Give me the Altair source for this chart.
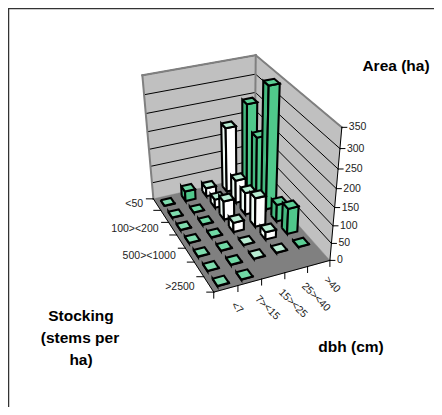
import numpy as np
import pandas as pd
import altair as alt

dbh_labels = ["<7", "7><15", "15><25", "25><40", ">40"]
stocking_labels = ["<50", "", "100><200", "", "500><1000", "", ">2500"]
area_ticks = [0, 50, 100, 150, 200, 250, 300, 350]
# rows = stocking, columns = dbh; None = no bar
area_values = [
    [1, 30, 25, 190, 245],
    [1, 1, 25, 68, 180],
    [1, 1, 55, 65, 345],
    [1, 1, 28, 85, 50],
    [1, 1, 1, 22, 75],
    [1, 1, 1, 1, 1],
    [1, 1, None, None, None],
]
series_face = ["#50c88b", "#50c88b", "#ffffff", "#ffffff", "#50c88b"]
series_side = ["#45b97f", "#45b97f", "#eefaf4", "#eefaf4", "#45b97f"]
series_top = ["#7fdcae", "#6fd8a4", "#b8ecd2", "#b8ecd2", "#5ccf95"]

# camera calibration of the 3-D box: (dbh pos, stocking pos, area) -> picture point
cal_world = [(0, 0, 0), (0, 7, 0), (5, 7, 0), (5, 0, 0), (0, 0, 350), (5, 0, 350), (5, 7, 350)]
cal_image = [(153, 197), (213.5, 293.5), (330, 258.5), (255, 178), (143, 76), (255, 54), (342, 128)]
A = []
for (X, Y, Z), (px, py) in zip(cal_world, cal_image):
    A.append([X, Y, Z, 1, 0, 0, 0, 0, -px * X, -px * Y, -px * Z, -px])
    A.append([0, 0, 0, 0, X, Y, Z, 1, -py * X, -py * Y, -py * Z, -py])
P = np.linalg.svd(np.array(A, float))[2][-1].reshape(3, 4)


def proj(u, v, z=0):
    q = P @ np.array([u, v, z, 1.0])
    return float(q[0] / q[2]), float(q[1] / q[2])


rules = []
texts = []


def poly(rows, name, pts, fill, stroke, sw):
    for k, p in enumerate(list(pts) + [pts[0]]):
        x, y = proj(*p)
        rows.append(dict(id=name, k=k, x=x, y=y, fill=fill, stroke=stroke, sw=sw))


def rule(a, b, color, sw, off=(0, 0)):
    x0, y0 = proj(*a)
    x1, y1 = proj(*b)
    rules.append(dict(x=x0, y=y0, x2=x1 + off[0], y2=y1 + off[1], c=color, sw=sw))


back = []
poly(back, "wallL", [(0, 0, 0), (5, 0, 0), (5, 0, 350), (0, 0, 350)], "#c0c0c0", "#c0c0c0", 0.5)
poly(back, "wallR", [(5, 0, 0), (5, 7, 0), (5, 7, 350), (5, 0, 350)], "#c0c0c0", "#c0c0c0", 0.5)
poly(back, "floor", [(0, 0, 0), (0, 7, 0), (5, 7, 0), (5, 0, 0)], "#808080", "#808080", 0.5)

for t in area_ticks[1:]:
    rule((0, 0, t), (5, 0, t), "#000000", 1)
    rule((5, 0, t), (5, 7, t), "#000000", 1)
rule((0, 0, 0), (0, 0, 350), "#808080", 2)
rule((0, 0, 350), (5, 0, 350), "#808080", 2)
rule((5, 0, 350), (5, 7, 350), "#808080", 2)
rule((5, 0, 0), (5, 0, 350), "#808080", 2)
rule((0, 0, 0), (0, 7, 0), "#000000", 1)
rule((0, 7, 0), (5, 7, 0), "#000000", 1)
rule((5, 7, 0), (5, 7, 350), "#000000", 1)
for i in range(6):
    rule((i, 7, 0), (i, 7, 0), "#000000", 1, off=(0, 6))
for j in range(8):
    rule((0, j, 0), (0, j, 0), "#000000", 1, off=(-7, 0))
for t in area_ticks:
    rule((5, 7, t), (5, 7, t), "#000000", 1, off=(5, 0))

bars = []
half = 0.24
edge = 2.1
for j in range(7):
    for i in range(4, -1, -1):
        val = area_values[j][i]
        if val is None:
            continue
        u0, u1 = i + 0.5 - half, i + 0.5 + half
        v0, v1 = j + 0.5 - half, j + 0.5 + half
        name = f"{j}-{i}"
        poly(bars, name + "s", [(u0, v0, 0), (u0, v1, 0), (u0, v1, val), (u0, v0, val)], series_side[i], "#000000", edge)
        poly(bars, name + "f", [(u0, v1, 0), (u1, v1, 0), (u1, v1, val), (u0, v1, val)], series_face[i], "#000000", edge)
        poly(bars, name + "t", [(u0, v0, val), (u0, v1, val), (u1, v1, val), (u1, v0, val)], series_top[i], "#000000", edge)

for j, lab in enumerate(stocking_labels):
    if lab:
        x, y = proj(0, j + 0.5, 0)
        texts.append(dict(x=x - 14, y=y - 1 + j * 0.6, t=lab, fs=10.5, w="normal", a="right", ang=0, c="#222222"))
for i, lab in enumerate(dbh_labels):
    x, y = proj(i + 0.5, 7, 0)
    texts.append(dict(x=x + 7, y=y + 15, t=lab, fs=10.5, w="normal", a="left", ang=45, c="#222222"))
for t in area_ticks:
    x, y = proj(5, 7, t)
    texts.append(dict(x=x + 7, y=y, t=str(t), fs=10.5, w="normal", a="left", ang=0, c="#222222"))
title_rows = [
    ("Area (ha)", 396, 66), ("Stocking", 81, 316), ("(stems per", 80, 338),
    ("ha)", 81, 360), ("dbh (cm)", 351, 347),
]
for t, x, y in title_rows:
    texts.append(dict(x=x, y=y, t=t, fs=15.5, w="bold", a="center", ang=0, c="#000000"))

W, H = 426, 399
xs = alt.Scale(domain=[8, 8 + W], nice=False, zero=False)
ys = alt.Scale(domain=[8 + H, 8], nice=False, zero=False)
X = alt.X("x:Q", scale=xs, axis=None)
Y = alt.Y("y:Q", scale=ys, axis=None)


def poly_layer(rows):
    return (
        alt.Chart(pd.DataFrame(rows))
        .mark_line(strokeJoin="miter", interpolate="linear")
        .encode(
            x=X, y=Y,
            detail="id:N",
            order="k:Q",
            fill=alt.Fill("fill:N", scale=None),
            stroke=alt.Stroke("stroke:N", scale=None),
            strokeWidth=alt.StrokeWidth("sw:Q", scale=None),
        )
    )


rule_layer = (
    alt.Chart(pd.DataFrame(rules))
    .mark_rule(strokeCap="square")
    .encode(
        x=X, y=Y, x2="x2:Q", y2="y2:Q",
        color=alt.Color("c:N", scale=None),
        strokeWidth=alt.StrokeWidth("sw:Q", scale=None),
    )
)

text_df = pd.DataFrame(texts)
text_layers = []
for (a, ang, w, fs), g in text_df.groupby(["a", "ang", "w", "fs"]):
    text_layers.append(
        alt.Chart(g)
        .mark_text(align=a, angle=int(ang), fontWeight=w, fontSize=float(fs), font="Liberation Sans", baseline="middle")
        .encode(x=X, y=Y, text="t:N", color=alt.Color("c:N", scale=None))
    )

frame = alt.Chart(pd.DataFrame({"a": [0]})).mark_rule(color="#333333", strokeWidth=1.5).encode(
    x=alt.value(0.5), y=alt.value(0), y2=alt.value(H)
)
frame2 = alt.Chart(pd.DataFrame({"a": [0]})).mark_rule(color="#333333", strokeWidth=1.5).encode(
    y=alt.value(0.5), x=alt.value(0), x2=alt.value(W)
)

chart = (
    alt.layer(frame, frame2, poly_layer(back), rule_layer, poly_layer(bars), *text_layers)
    .properties(width=W, height=H, padding=0, background="#ffffff",
                autosize=alt.AutoSizeParams(type="none", contains="padding"))
    .configure_view(stroke=None)
)
chart.save("out.html", embed_options={"renderer": "svg", "actions": False})
